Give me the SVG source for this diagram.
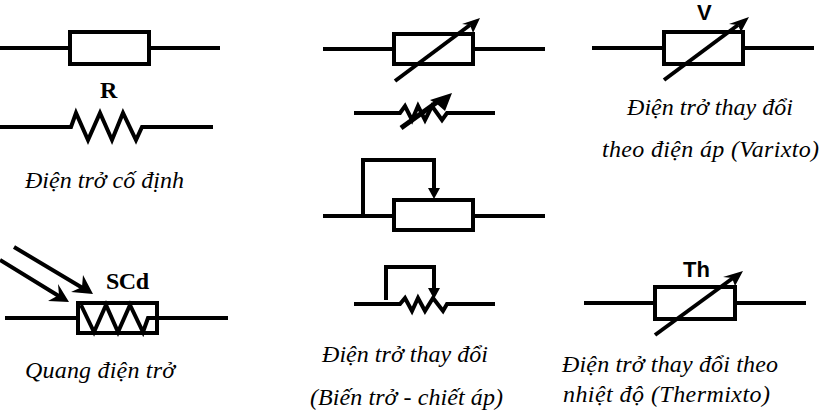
<svg xmlns="http://www.w3.org/2000/svg" width="819" height="417" viewBox="0 0 819 417">
<style>
.w{fill:none;stroke:#000;stroke-width:4}
.z{fill:none;stroke:#000;stroke-width:4;stroke-linejoin:miter}
.t{fill:none;stroke:#000;stroke-width:5}
.h{fill:#000;stroke:none}
.c{font-family:"Liberation Serif",serif;font-style:italic;font-size:24px;fill:#000}
.b{font-family:"Liberation Serif",serif;font-weight:bold;font-size:24px;fill:#000}
.a{font-family:"Liberation Sans",sans-serif;font-weight:bold;font-size:22px;fill:#000}
</style>
<rect width="819" height="417" fill="#fff"/>
<g id="fixed-box">
<path class="w" d="M0 48H70M149 48H220"/><rect class="w" x="70" y="32" width="79" height="32"/>
</g>
<g id="fixed-zigzag">
<text class="b" x="100" y="98">R</text>
<path class="z" d="M0 127H71L76 113L88 140L100 113L112 140L123 113L136 140L142 127H213"/>
<text class="c" x="25" y="188" textLength="159">Điện trở cố định</text>
</g>
<g id="photo">
<path class="w" d="M14 247L86 290M0 260L62 298"/>
<polygon class="h" points="93,294 71,292 82,287 83,275"/>
<polygon class="h" points="69,302 48,301 59,295 58,284"/>
<text class="b" x="106" y="289" textLength="43">SCd</text>
<path class="w" d="M5 318H78M157 318H228"/>
<rect class="w" x="78" y="303" width="79" height="30"/>
<path class="z" d="M81 305L94 332L106 305L118 332L130 305L143 332L148 318H157"/>
<text class="c" x="25" y="378" textLength="150">Quang điện trở</text>
</g>
<g id="variable-box">
<path class="w" d="M323 49H394M473 49H545"/><rect class="w" x="394" y="34" width="79" height="30"/>
<path class="w" d="M395 81L470 25"/>
<polygon class="h" points="480,18 473,33 470,25 462,24"/>
</g>
<g id="variable-zigzag">
<path class="w" d="M354 113H400L405 106L412 120L418 106L425 120L432 106L442 120L447 113H495"/>
<path class="t" d="M401 128L440 100"/>
<polygon class="h" points="452,93 445,111 437,104 430,100"/>
</g>
<g id="potentiometer-box">
<path class="w" d="M323 216H394M473 216H545M363 216V160H434V190"/>
<rect class="w" x="394" y="200" width="79" height="30"/>
<polygon class="h" points="434,199 428,188 440,188"/>
</g>
<g id="potentiometer-zigzag">
<path class="w" d="M386 300V267H434V292"/>
<polygon class="h" points="434,299 428,288 440,288"/>
<path class="w" d="M354 304H400L405 298L412 311L418 298L425 311L433 298L443 311L447 304H495"/>
<text class="c" x="322" y="362" textLength="166">Điện trở thay đổi</text>
<text class="c" x="310" y="405" textLength="193">(Biến trở - chiết áp)</text>
</g>
<g id="varistor">
<text class="a" x="697" y="20">V</text>
<path class="w" d="M592 48H664M743 48H814"/><rect class="w" x="664" y="32" width="79" height="32"/>
<path class="w" d="M664 80L738 25"/>
<polygon class="h" points="749,17 741,32 738,25 729,24"/>
<text class="c" x="627" y="115" textLength="166">Điện trở thay đổi</text>
<text class="c" x="602" y="157" textLength="217">theo điện áp (Varixto)</text>
</g>
<g id="thermistor">
<text class="a" x="683" y="277">Th</text>
<path class="w" d="M584 303H655M735 303H806"/><rect class="w" x="655" y="287" width="80" height="32"/>
<path class="w" d="M655 335L733 278"/>
<polygon class="h" points="743,271 735,286 732,278 723,277"/>
<text class="c" x="562" y="372" textLength="216">Điện trở thay đổi theo</text>
<text class="c" x="563" y="402" textLength="207">nhiệt độ (Thermixto)</text>
</g>
</svg>
